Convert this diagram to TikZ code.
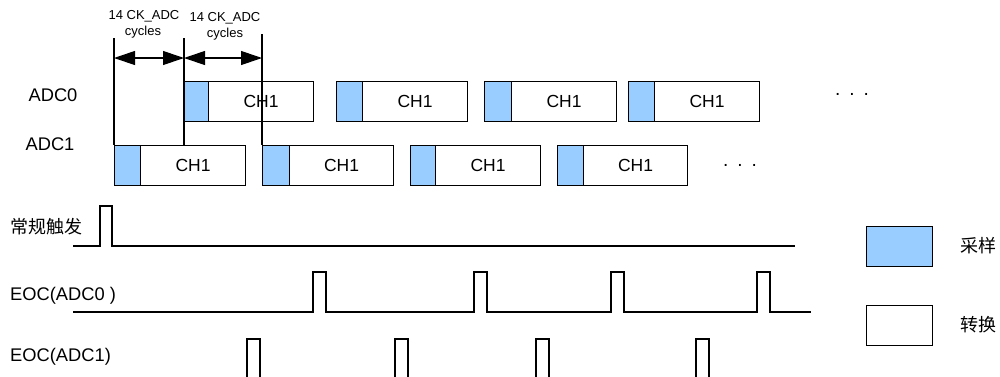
\documentclass[tikz,border=0pt]{standalone}
\usepackage{fontspec}
\setmainfont{Liberation Sans}
\newfontfamily\cjk{Noto Sans CJK SC}
\usetikzlibrary{arrows.meta}
\definecolor{sampblue}{RGB}{153,204,255}
\tikzset{
  samp/.style={draw, fill=sampblue, line width=1.1pt, minimum height=40pt, inner sep=0pt, anchor=north west},
  conv/.style={draw, line width=1.1pt, minimum height=40pt, inner sep=0pt, anchor=north west, font=\fontsize{17.5}{20}\selectfont},
  lbl/.style={font=\fontsize{18.3}{21}\selectfont, inner sep=0pt},
  cjklbl/.style={font=\cjk\fontsize{18}{20}\selectfont, inner sep=0pt},
  small/.style={font=\fontsize{13}{15}\selectfont, inner sep=0pt},
  sig/.style={line width=1.2pt, line join=miter},
  guide/.style={line width=1.1pt},
  dim/.style={line width=1.1pt, {Triangle[length=21pt,width=14pt]}-{Triangle[length=21pt,width=14pt]}},
  dots/.style={font=\fontsize{19}{20}\selectfont, inner sep=0pt},
}
\begin{document}
\begin{tikzpicture}[x=1pt,y=-1pt]
\useasboundingbox (0,0) rectangle (1000,376);

% row labels
\node[lbl] (lADC0) at (53,95) {ADC0};
\node[lbl] (lADC1) at (50,144) {ADC1};

% ADC0 row boxes
\foreach \i/\a/\b/\c in {1/184/208/313, 2/336/362/467, 3/484/511/616, 4/628/654/759}{
  \pgfmathsetmacro{\ws}{\b-\a}
  \pgfmathsetmacro{\wc}{\c-\b}
  \node[samp, minimum width=\ws pt] (s0\i) at (\a,81) {};
  \node[conv, minimum width=\wc pt] (c0\i) at (\b,81) {CH1};
}
% ADC1 row boxes
\foreach \i/\a/\b/\c in {1/114/140/245, 2/262/289/393, 3/410/435/540, 4/557/583/687}{
  \pgfmathsetmacro{\ws}{\b-\a}
  \pgfmathsetmacro{\wc}{\c-\b}
  \node[samp, minimum width=\ws pt] (s1\i) at (\a,145) {};
  \node[conv, minimum width=\wc pt] (c1\i) at (\b,145) {CH1};
}

\node[dots] (d0) at (852,94) {.\hspace{9pt}.\hspace{9pt}.};
\node[dots] (d1) at (740,165) {.\hspace{9pt}.\hspace{9pt}.};

% guide lines and dimension arrows
\coordinate (g1t) at (114,38);
\coordinate (g2t) at (184,38);
\coordinate (g3t) at (262,34);
\coordinate (g2b) at (184,145);
\draw[guide] (g1t) -- (s11.north west);
\draw[guide] (g2t) -- (g2b);
\draw[guide] (g3t) -- (s12.north west);
\coordinate (a1) at (114,58);
\coordinate (a2) at (184,58);
\coordinate (a3) at (262,58);
\draw[dim] (a1) -- (a2);
\draw[dim] (a2) -- (a3);
\node[small] (t1a) at (144,16) {14 CK\_ADC};
\node[small] (t1b) at (143,32) {cycles};
\node[small] (t2a) at (225,18) {14 CK\_ADC};
\node[small] (t2b) at (225,34) {cycles};

% trigger signal
\node[cjklbl] (ltrig) at (46,227) {常规触发};
\coordinate (tr0) at (73,246);
\coordinate (tr1) at (795,246);
\draw[sig] (tr0) -- (100,246) -- (100,206) -- (112,206) -- (112,246) -- (tr1);

% EOC ADC0
\node[lbl, anchor=west] (leoc0) at (10,296) {EOC(ADC0 )};
\coordinate (e00) at (73,312);
\coordinate (e01) at (811,312);
\draw[sig] (e00)
  -- (313,312) -- (313,272) -- (326,272) -- (326,312)
  -- (474,312) -- (474,272) -- (487,272) -- (487,312)
  -- (611,312) -- (611,272) -- (624,272) -- (624,312)
  -- (757,312) -- (757,272) -- (770,272) -- (770,312)
  -- (e01);

% EOC ADC1
\node[lbl, anchor=west] (leoc1) at (10,357) {EOC(ADC1)};
\foreach \x in {247,395,536,696}{
  \pgfmathsetmacro{\xe}{\x+13}
  \draw[sig] (\x,380) -- (\x,339) -- (\xe,339) -- (\xe,380);
}

% legend
\node[samp, minimum width=66pt, minimum height=40pt] (legS) at (866,226) {};
\node[conv, minimum width=66pt, minimum height=40pt] (legC) at (866,305) {};
\node[cjklbl] (legSt) at (978,246) {采样};
\node[cjklbl] (legCt) at (978,325) {转换};
\end{tikzpicture}
\end{document}
